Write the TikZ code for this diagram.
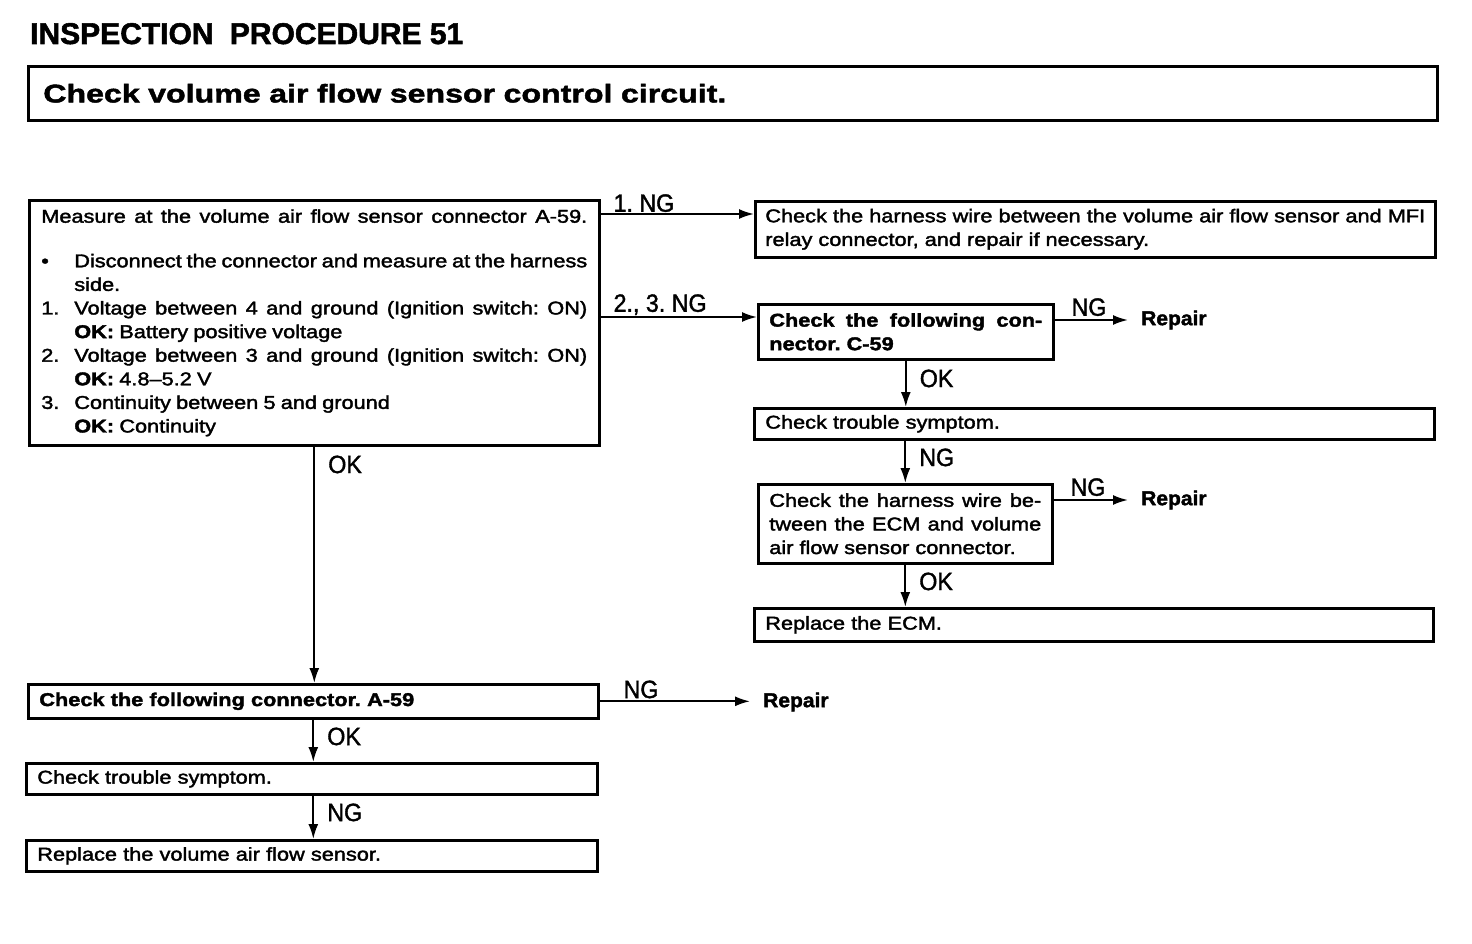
\documentclass[tikz,border=0pt]{standalone}
\usepackage{fontspec}
\setmainfont{Liberation Sans}[FakeStretch=1.175, FakeBold=2]
\newfontfamily\lblfam{Liberation Sans}[FakeStretch=0.93, FakeBold=1.5]
\newfontfamily\ttlfam{Liberation Sans}[FakeBold=1.8]
\newfontfamily\hdrfam{Liberation Sans}[FakeStretch=1.26, FakeBold=1.8]
\newfontfamily\repfam{Liberation Sans}[FakeStretch=1.05, FakeBold=1.8]
\usetikzlibrary{arrows.meta}
\newcommand\bdyfnt{\fontsize{18.5}{23.6}\selectfont}
\tikzset{
  fbox/.style={draw, line width=2.6pt, anchor=north west, inner xsep=11pt, inner ysep=0pt, align=justify, font=\bdyfnt},
  lbl/.style={font=\lblfam\fontsize{25}{26}\selectfont, inner sep=0pt},
  rep/.style={font=\repfam\bfseries\fontsize{20}{22}\selectfont, anchor=west, inner xsep=13pt, inner ysep=0pt},
  arr/.style={line width=2pt, -{Latex[length=15pt,width=10pt]}},
}
\frenchspacing
\begin{document}
\frenchspacing
\begin{tikzpicture}[x=1pt,y=-1pt]
\useasboundingbox (0,0) rectangle (1472,944);
\node[anchor=base west, inner sep=0pt, font=\ttlfam\bfseries\fontsize{30}{32}\selectfont] (ttl) at (30,44) {INSPECTION\hspace{8pt} PROCEDURE 51};

\node[fbox, minimum width=1409pt, minimum height=54pt, text width=1379pt, inner xsep=15pt, align=left, font=\hdrfam\bfseries\fontsize{25.5}{28}\selectfont] (hdr) at (27,65) {Check volume air flow sensor control circuit.};

\node[fbox, minimum width=570pt, minimum height=245pt, text width=546pt, inner xsep=12pt] (main) at (28,199) {%
\frenchspacing\spaceskip=5.2pt plus 4pt minus 1.2pt
{\parfillskip=0pt\noindent Measure at the volume air flow sensor connector A-59.\par}
\vspace{21pt}
\hangindent=33pt\hangafter=1\noindent\makebox[33pt][l]{\textbullet}Disconnect the connector and measure at the harness\linebreak side.\par
\hangindent=33pt\hangafter=1\noindent\makebox[33pt][l]{1.}Voltage between 4 and ground (Ignition switch: ON)\linebreak \textbf{OK:} Battery positive voltage\par
\hangindent=33pt\hangafter=1\noindent\makebox[33pt][l]{2.}Voltage between 3 and ground (Ignition switch: ON)\linebreak \textbf{OK:} 4.8\textendash5.2 V\par
\hangindent=33pt\hangafter=1\noindent\makebox[33pt][l]{3.}Continuity between 5 and ground\newline \textbf{OK:} Continuity\par}; 

\node[fbox, minimum width=680pt, minimum height=56pt, text width=660pt, inner xsep=10pt] (r1) at (754,200) {Check the harness wire between the volume air flow sensor and MFI\linebreak relay connector, and repair if necessary.};

\node[fbox, minimum width=295pt, minimum height=55pt, text width=273pt, font=\bdyfnt\bfseries] (c59) at (757,303) {Check the following con-\linebreak nector. C-59};

\node[fbox, minimum width=680pt, minimum height=31pt, text width=658pt, align=left] (ts1) at (753,407) {Check trouble symptom.};

\node[fbox, minimum width=294pt, minimum height=79pt, text width=272pt] (hw) at (757,483) {Check the harness wire be-\linebreak tween the ECM and volume\linebreak air flow sensor connector.};

\node[fbox, minimum width=679pt, minimum height=33pt, text width=657pt, align=left] (ecm) at (753,607) {Replace the ECM.};

\node[fbox, minimum width=570pt, minimum height=34pt, text width=548pt, align=left, font=\bdyfnt\bfseries] (a59) at (27,683) {Check the following connector. A-59};

\node[fbox, minimum width=571pt, minimum height=31pt, text width=549pt, align=left] (ts2) at (25,762) {Check trouble symptom.};

\node[fbox, minimum width=571pt, minimum height=31pt, text width=549pt, align=left] (rvs) at (25,839) {Replace the volume air flow sensor.};

\node[rep] (rp1) at (1128,320) {Repair};
\node[rep] (rp2) at (1128,500) {Repair};
\node[rep] (rp3) at (750,702) {Repair};

% connectors
\draw[arr] ([yshift=-15pt]main.north east) coordinate (s1) -- (s1 -| r1.west)
  node[lbl, pos=0, anchor=south west, xshift=12pt, yshift=1pt] {1. NG};
\draw[arr] ([yshift=-118pt]main.north east) coordinate (s2) -- (s2 -| c59.west)
  node[lbl, pos=0, anchor=south west, xshift=12pt, yshift=1pt] {2., 3. NG};
\draw[arr] ([yshift=-17pt]c59.north east) coordinate (s3) -- (s3 -| rp1.west)
  node[lbl, pos=0, anchor=south west, xshift=16pt, yshift=3pt] {NG};
\draw[arr] (c59.south) -- (c59.south |- ts1.north)
  node[lbl, pos=0, anchor=north west, xshift=13pt, yshift=-8pt] {OK};
\draw[arr] (hw.north |- ts1.south) -- (hw.north)
  node[lbl, pos=0, anchor=north west, xshift=13pt, yshift=-7pt] {NG};
\draw[arr] ([yshift=-17pt]hw.north east) coordinate (s4) -- (s4 -| rp2.west)
  node[lbl, pos=0, anchor=south west, xshift=16pt, yshift=3pt] {NG};
\draw[arr] (hw.south) -- (hw.south |- ecm.north)
  node[lbl, pos=0, anchor=north west, xshift=13pt, yshift=-7pt] {OK};
\draw[arr] (main.south) -- (main.south |- a59.north)
  node[lbl, pos=0, anchor=north west, xshift=13pt, yshift=-8pt] {OK};
\draw[arr] (a59.east) -- (a59.east -| rp3.west)
  node[lbl, pos=0, anchor=south west, xshift=23pt, yshift=2pt] {NG};
\draw[arr] (a59.south) -- (a59.south |- ts2.north)
  node[lbl, pos=0, anchor=north west, xshift=13pt, yshift=-7pt] {OK};
\draw[arr] (a59.south |- ts2.south) -- (a59.south |- rvs.north)
  node[lbl, pos=0, anchor=north west, xshift=13pt, yshift=-7pt] {NG};
\end{tikzpicture}
\end{document}
